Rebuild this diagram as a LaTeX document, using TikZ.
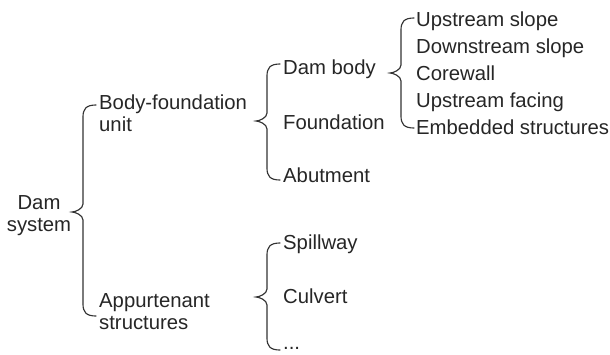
\documentclass[tikz,border=0pt]{standalone}
\usepackage{fontspec}
\setmainfont{Liberation Sans}
\begin{document}
\begin{tikzpicture}[x=1pt,y=-1pt,
  lbl/.style={anchor=base west,inner sep=0pt,font=\fontsize{20.3}{22}\selectfont,text=black!85},
  two/.style={lbl,anchor=west,align=left},
  brc/.style={draw=black!80,line width=1.15pt,line cap=round}]
\useasboundingbox (0,0) rectangle (610,354);
% brace: #1 tip x, #2 top y, #3 tip y, #4 bottom y
\newcommand\mybrace[4]{%
  \draw[brc] ({#1+24},#2) .. controls ({#1+14},#2) and ({#1+11},{#2+4}) .. ({#1+11},{#2+12})
    -- ({#1+11},{#3-8}) .. controls ({#1+11},{#3-3}) and ({#1+3},#3) .. (#1,#3)
    .. controls ({#1+3},#3) and ({#1+11},{#3+3}) .. ({#1+11},{#3+8})
    -- ({#1+11},{#4-12}) .. controls ({#1+11},{#4-4}) and ({#1+14},#4) .. ({#1+24},#4);}
\node[two,anchor=center,align=center] (dam) at (39,216) {Dam\\system};
\node[two] (bf) at (99,113) {Body-foundation\\unit};
\node[two] (ap) at (99,312) {Appurtenant\\structures};
\node[lbl] (db) at (283,74.3) {Dam body};
\node[lbl] (fd) at (283,129.3) {Foundation};
\node[lbl] (ab) at (283,182.3) {Abutment};
\node[lbl] (sp) at (283,249.3) {Spillway};
\node[lbl] (cu) at (283,303.3) {Culvert};
\node[lbl] (dt) at (283,349.5) {...};
\node[lbl] (u1) at (416,26.3) {Upstream slope};
\node[lbl] (u2) at (416,53.5) {Downstream slope};
\node[lbl] (u3) at (416,80.3) {Corewall};
\node[lbl] (u4) at (416,107.3) {Upstream facing};
\node[lbl] (u5) at (416,134.3) {Embedded structures};
\mybrace{72}{105}{212}{316}
\mybrace{256}{64}{121}{180}
\mybrace{256}{243}{297}{350}
\mybrace{390}{18}{73}{128}
\end{tikzpicture}
\end{document}
